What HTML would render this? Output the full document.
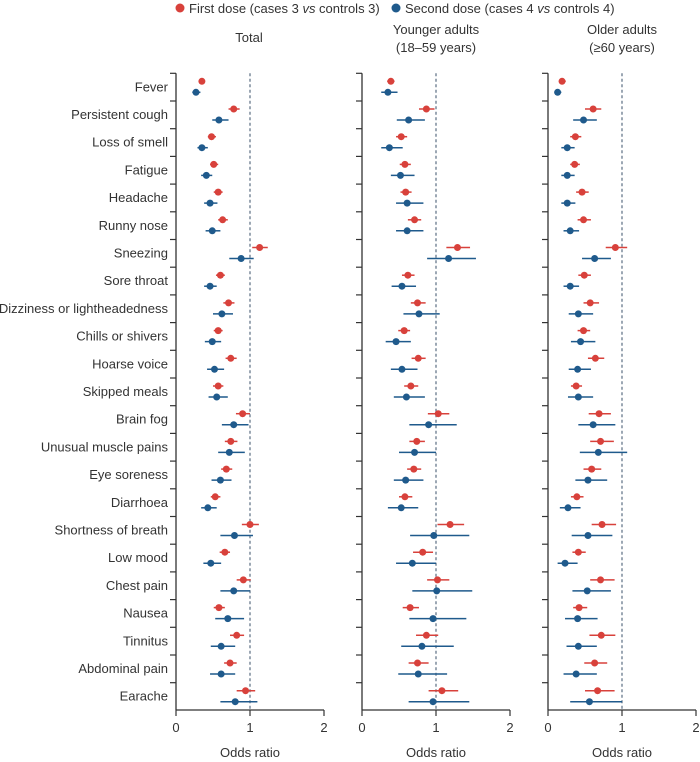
<!DOCTYPE html>
<html><head><meta charset="utf-8"><style>
body{margin:0;background:#fff;width:700px;height:757px;overflow:hidden;font-family:"Liberation Sans",sans-serif;}
svg text{font-family:"Liberation Sans","Noto Sans CJK SC",sans-serif;fill:#333;}
</style></head><body>
<svg id="chart" width="700" height="757" viewBox="0 0 700 757" xmlns="http://www.w3.org/2000/svg">
<g>
<circle cx="180" cy="8" r="4.5" fill="#d8413b"/>
<text x="189" y="13" font-size="13">First dose (cases 3 <tspan font-style="italic">vs</tspan> controls 3)</text>
<circle cx="396" cy="8" r="4.5" fill="#1f5a8c"/>
<text x="405" y="13" font-size="13">Second dose (cases 4 <tspan font-style="italic">vs</tspan> controls 4)</text>
</g>
<text x="249" y="42" font-size="13" text-anchor="middle">Total</text>
<text x="436" y="34" font-size="13" text-anchor="middle">Younger adults</text>
<text x="436" y="52" font-size="13" text-anchor="middle">(18–59 years)</text>
<text x="622" y="34" font-size="13" text-anchor="middle">Older adults</text>
<text x="622" y="52" font-size="13" text-anchor="middle">(≥60 years)</text>
<g id="plots"></g>
</svg>
<script>
const categories=["Fever","Persistent cough","Loss of smell","Fatigue","Headache","Runny nose","Sneezing","Sore throat","Dizziness or lightheadedness","Chills or shivers","Hoarse voice","Skipped meals","Brain fog","Unusual muscle pains","Eye soreness","Diarrhoea","Shortness of breath","Low mood","Chest pain","Nausea","Tinnitus","Abdominal pain","Earache"];
const xTicks=[0,1,2];
const totalFirst=[0.35,0.78,0.48,0.51,0.57,0.63,1.13,0.60,0.71,0.57,0.74,0.57,0.90,0.74,0.68,0.53,1.00,0.66,0.91,0.58,0.82,0.73,0.94];
const totalFirstLo=[0.31,0.71,0.43,0.46,0.51,0.57,1.03,0.54,0.64,0.51,0.67,0.50,0.81,0.66,0.61,0.47,0.89,0.59,0.82,0.51,0.73,0.65,0.82];
const totalFirstHi=[0.39,0.86,0.54,0.57,0.63,0.70,1.24,0.66,0.79,0.63,0.82,0.64,1.00,0.83,0.76,0.60,1.12,0.73,1.01,0.66,0.92,0.82,1.07];
const totalSecond=[0.27,0.58,0.35,0.41,0.46,0.49,0.88,0.46,0.62,0.49,0.52,0.55,0.78,0.72,0.60,0.43,0.79,0.47,0.78,0.70,0.61,0.61,0.80];
const totalSecondLo=[0.22,0.49,0.29,0.34,0.38,0.40,0.72,0.38,0.50,0.39,0.42,0.44,0.62,0.57,0.48,0.34,0.60,0.37,0.60,0.53,0.47,0.46,0.60];
const totalSecondHi=[0.33,0.71,0.43,0.49,0.56,0.60,1.05,0.55,0.77,0.61,0.65,0.70,0.98,0.93,0.75,0.55,1.04,0.61,1.00,0.92,0.80,0.80,1.10];
const youngFirst=[0.39,0.87,0.53,0.58,0.59,0.71,1.29,0.62,0.75,0.57,0.76,0.66,1.03,0.74,0.70,0.58,1.19,0.82,1.02,0.65,0.87,0.75,1.08];
const youngFirstLo=[0.34,0.77,0.46,0.51,0.52,0.62,1.14,0.54,0.66,0.49,0.67,0.57,0.89,0.64,0.61,0.50,1.02,0.69,0.88,0.55,0.73,0.63,0.90];
const youngFirstHi=[0.44,0.98,0.61,0.66,0.67,0.80,1.46,0.71,0.86,0.65,0.86,0.76,1.18,0.85,0.80,0.68,1.38,0.96,1.18,0.77,1.03,0.90,1.30];
const youngSecond=[0.35,0.63,0.37,0.52,0.61,0.61,1.17,0.54,0.77,0.46,0.54,0.60,0.90,0.71,0.59,0.53,0.97,0.68,1.01,0.96,0.81,0.76,0.96];
const youngSecondLo=[0.26,0.47,0.26,0.39,0.46,0.46,0.88,0.40,0.56,0.32,0.39,0.43,0.64,0.50,0.43,0.35,0.65,0.46,0.68,0.64,0.53,0.49,0.63];
const youngSecondHi=[0.48,0.85,0.55,0.71,0.83,0.83,1.54,0.73,1.05,0.66,0.75,0.85,1.28,1.00,0.83,0.76,1.45,1.00,1.49,1.41,1.24,1.15,1.45];
const oldFirst=[0.19,0.61,0.37,0.36,0.46,0.48,0.91,0.49,0.57,0.48,0.64,0.38,0.69,0.71,0.59,0.39,0.73,0.41,0.71,0.42,0.72,0.63,0.67];
const oldFirstLo=[0.15,0.50,0.30,0.30,0.38,0.40,0.78,0.41,0.48,0.40,0.54,0.31,0.55,0.57,0.48,0.31,0.59,0.33,0.57,0.34,0.56,0.49,0.50];
const oldFirstHi=[0.24,0.72,0.45,0.43,0.55,0.58,1.07,0.58,0.69,0.57,0.76,0.46,0.85,0.89,0.72,0.48,0.92,0.51,0.90,0.53,0.91,0.80,0.90];
const oldSecond=[0.13,0.48,0.26,0.26,0.26,0.30,0.63,0.30,0.41,0.44,0.40,0.41,0.61,0.68,0.54,0.27,0.54,0.23,0.53,0.40,0.41,0.38,0.56];
const oldSecondLo=[0.09,0.34,0.18,0.18,0.18,0.21,0.46,0.21,0.28,0.31,0.28,0.27,0.41,0.43,0.37,0.16,0.32,0.13,0.33,0.23,0.25,0.21,0.30];
const oldSecondHi=[0.18,0.66,0.36,0.36,0.37,0.42,0.85,0.42,0.61,0.64,0.58,0.61,0.91,1.07,0.80,0.44,0.87,0.40,0.85,0.67,0.66,0.66,1.00];

const NS="http://www.w3.org/2000/svg";
const root=document.getElementById('plots');
const TOP=73.3, ROWH=27.7, AXY=710, UNIT=74;
const RED="#d8413b", BLUE="#1f5a8c";
function mk(tag,attrs,parent){const e=document.createElementNS(NS,tag);for(const k in attrs)e.setAttribute(k,attrs[k]);(parent||root).appendChild(e);return e;}
function rowTop(i){return TOP+i*ROWH;}

// category labels
categories.forEach((c,i)=>{
  const t=mk('text',{x:168,y:rowTop(i)+18,'font-size':13,'text-anchor':'end'});
  
  
  t.textContent=c;
});

const panels=[
 {name:'total',x0:176,series:[[totalFirst,totalFirstLo,totalFirstHi],[totalSecond,totalSecondLo,totalSecondHi]]},
 {name:'younger',x0:362,series:[[youngFirst,youngFirstLo,youngFirstHi],[youngSecond,youngSecondLo,youngSecondHi]]},
 {name:'older',x0:548,series:[[oldFirst,oldFirstLo,oldFirstHi],[oldSecond,oldSecondLo,oldSecondHi]]}
];
panels.forEach(p=>{
  const g=mk('g',{});
  
  
  const X=v=>p.x0+v*UNIT;
  // reference line
  const ref=mk('line',{x1:X(1),x2:X(1),y1:TOP,y2:AXY,stroke:'#5a6d82','stroke-width':1.2,'stroke-dasharray':'3,2.5'},g);
  
  
  // y axis
  const ya=mk('line',{x1:p.x0,x2:p.x0,y1:TOP,y2:AXY,stroke:'#333','stroke-width':1.3},g);
  
  
  for(let i=0;i<=categories.length-1;i++){
    const tk=mk('line',{x1:p.x0-6,x2:p.x0,y1:rowTop(i),y2:rowTop(i),stroke:'#333','stroke-width':1.2},g);
    
    
  }
  // x axis
  const xa=mk('line',{x1:p.x0,x2:X(xTicks[xTicks.length-1]),y1:AXY,y2:AXY,stroke:'#333','stroke-width':1.3},g);
  
  
  xTicks.forEach(v=>{
    const tk=mk('line',{x1:X(v),x2:X(v),y1:AXY,y2:AXY+6,stroke:'#333','stroke-width':1.2},g);
    
    
    const tl=mk('text',{x:X(v),y:AXY+22,'font-size':13,'text-anchor':'middle'},g);
    
    
    tl.textContent=v;
  });
  const xt=mk('text',{x:X(1),y:AXY+47,'font-size':13,'text-anchor':'middle'},g);
  
  
  xt.textContent='Odds ratio';
  p.series.forEach((s,si)=>{
    const col=si===0?RED:BLUE, off=si===0?8:19;
    s[0].forEach((v,i)=>{
      const y=rowTop(i)+off;
      const ci=mk('line',{x1:X(s[1][i]),x2:X(s[2][i]),y1:y,y2:y,stroke:col,'stroke-width':1.5},g);
      
      
      const pt=mk('circle',{cx:X(v),cy:y,r:3.5,fill:col},g);
      
      
    });
  });
});
</script>
</body></html>
